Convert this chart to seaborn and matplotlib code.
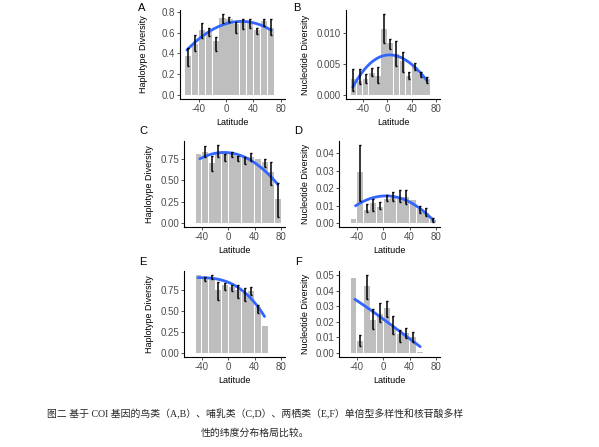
import numpy as np
import matplotlib
matplotlib.use("Agg")
import matplotlib.pyplot as plt
import seaborn as sns

# ---- data ----
# A: birds, haplotype diversity
a_lat = [-55, -45, -35, -25, -15, -5, 5, 15, 25, 35, 45, 55, 65]
a_bar = [0.37, 0.49, 0.62, 0.607, 0.516, 0.738, 0.728, 0.686, 0.706, 0.696, 0.62, 0.712, 0.64]
a_err_lat = [-55, -45, -35, -25, -15, -5, 5, 15, 25, 35, 45, 55, 65]
a_err_mid = [0.365, 0.50, 0.622, 0.606, 0.487, 0.737, 0.726, 0.647, 0.68, 0.685, 0.618, 0.696, 0.655]
a_err_se = [0.085, 0.074, 0.074, 0.041, 0.069, 0.041, 0.02, 0.05, 0.05, 0.045, 0.03, 0.033, 0.075]
a_fit_lat = [-57, -35, -15, 5, 25, 45, 66]
a_fit_val = [0.43, 0.565, 0.645, 0.69, 0.705, 0.69, 0.62]

# B: birds, nucleotide diversity
b_lat = [-55, -45, -35, -25, -15, -5, 5, 15, 25, 35, 45, 55, 65]
b_bar = [0.0025, 0.0022, 0.0025, 0.0035, 0.0031, 0.0106, 0.0083, 0.0066, 0.0055, 0.0031, 0.0045, 0.0033, 0.0025]
b_err_lat = [-55, -45, -35, -25, -15, -5, 5, 15, 25, 35, 45, 55, 65]
b_err_mid = [0.0024, 0.003, 0.0027, 0.0037, 0.0032, 0.0107, 0.0082, 0.0067, 0.0053, 0.0031, 0.0046, 0.0033, 0.0024]
b_err_se = [0.0018, 0.0012, 0.0007, 0.0006, 0.0013, 0.0023, 0.0008, 0.002, 0.0016, 0.0006, 0.0006, 0.0004, 0.0005]
b_fit_lat = [-56, -41, -25, -9, 7, 23, 39, 52, 65]
b_fit_val = [0.0012, 0.0037, 0.0053, 0.0061, 0.0064, 0.0061, 0.005, 0.0037, 0.0023]

# C: mammals, haplotype diversity
c_lat = [-45, -35, -25, -15, -5, 5, 15, 25, 35, 45, 55, 65, 75]
c_bar = [0.807, 0.83, 0.70, 0.826, 0.814, 0.81, 0.787, 0.769, 0.77, 0.75, 0.712, 0.60, 0.276]
c_err_lat = [-35, -25, -15, -5, 5, 15, 25, 35, 55, 65, 75]
c_err_mid = [0.835, 0.70, 0.844, 0.768, 0.80, 0.755, 0.727, 0.772, 0.70, 0.58, 0.267]
c_err_se = [0.065, 0.088, 0.068, 0.038, 0.025, 0.032, 0.042, 0.042, 0.047, 0.133, 0.2]
c_fit_lat = [-43, -24, -4, 15, 35, 55, 75]
c_fit_val = [0.75, 0.806, 0.826, 0.80, 0.72, 0.62, 0.45]

# D: mammals, nucleotide diversity
d_lat = [-45, -35, -25, -15, -5, 5, 15, 25, 35, 45, 55, 65, 75]
d_bar = [0.0024, 0.029, 0.0075, 0.0117, 0.0092, 0.0138, 0.0145, 0.0136, 0.0148, 0.013, 0.0078, 0.0057, 0.0015]
d_err_lat = [-35, -25, -15, -5, 5, 15, 25, 35, 55, 65, 75]
d_err_mid = [0.0287, 0.0084, 0.0105, 0.0099, 0.0143, 0.0152, 0.0155, 0.0152, 0.0078, 0.0066, 0.0017]
d_err_se = [0.016, 0.0023, 0.0035, 0.0019, 0.0016, 0.0025, 0.0037, 0.004, 0.002, 0.0023, 0.0012]
d_fit_lat = [-42, -24, -4, 15, 35, 55, 76]
d_fit_val = [0.0098, 0.0136, 0.0152, 0.0151, 0.0132, 0.0084, 0.0015]

# E: amphibians, haplotype diversity
e_lat = [-45, -35, -25, -15, -5, 5, 15, 25, 35, 45, 55]
e_bar = [0.923, 0.903, 0.883, 0.746, 0.805, 0.785, 0.746, 0.707, 0.734, 0.55, 0.314]
e_err_lat = [-35, -25, -15, -5, 5, 15, 25, 35, 45]
e_err_mid = [0.878, 0.90, 0.736, 0.785, 0.77, 0.726, 0.69, 0.736, 0.52]
e_err_se = [0.025, 0.023, 0.108, 0.04, 0.035, 0.079, 0.075, 0.05, 0.05]
e_fit_lat = [-46, -24, -4, 16, 31, 43, 55]
e_fit_val = [0.89, 0.885, 0.845, 0.77, 0.67, 0.57, 0.43]

# F: amphibians, nucleotide diversity
f_lat = [-45, -35, -25, -15, -5, 5, 15, 25, 35, 45, 55]
f_bar = [0.048, 0.008, 0.043, 0.021, 0.025, 0.029, 0.017, 0.012, 0.013, 0.0105, 0.001]
f_err_lat = [-35, -25, -15, -5, 5, 15, 25, 35, 45]
f_err_mid = [0.008, 0.0424, 0.022, 0.026, 0.028, 0.018, 0.011, 0.0127, 0.0105]
f_err_se = [0.0037, 0.0076, 0.0064, 0.0062, 0.005, 0.0057, 0.0037, 0.0032, 0.0032]
f_fit_lat = [-43, -25, -5, 15, 35, 56]
f_fit_val = [0.0345, 0.029, 0.0235, 0.0172, 0.0105, 0.0042]

x_ticks = [-40, 0, 40, 80]
caption_1 = "图二 基于 COI 基因的鸟类（A,B）、哺乳类（C,D）、两栖类（E,F）单倍型多样性和核苷酸多样"
caption_2 = "性的纬度分布格局比较。"

sns.set_theme(style="ticks")
plt.rcParams['font.family'] = ['Liberation Sans', 'DejaVu Sans']
plt.rcParams['axes.unicode_minus'] = False

W, H = 599, 447
fig = plt.figure(figsize=(W / 100, H / 100), dpi=100)


def px_axes(left, top, right, bottom):
    return fig.add_axes([left / W, 1 - bottom / H, (right - left) / W, (bottom - top) / H])


def draw_panel(ax, lat, bar, err_lat, err_mid, err_se, fit_lat, fit_val,
               ylabel, yticks, fmt, letter, letter_xy, ylab_x):
    sns.barplot(x=lat, y=bar, native_scale=True, orient="x", width=0.9,
                color="#BEBEBE", saturation=1, linewidth=0, errorbar=None, ax=ax)
    sns.regplot(x=fit_lat, y=fit_val, order=3, ci=None, scatter=False, truncate=True,
                line_kws={'color': '#3366FF', 'lw': 2.0, 'zorder': 3}, ax=ax)
    ax.errorbar(err_lat, err_mid, yerr=err_se, fmt='none', ecolor='black',
                elinewidth=1.1, capsize=1.0, capthick=1.0, zorder=4)
    top = max(max(bar), max(np.array(err_mid) + np.array(err_se)))
    ax.set_ylim(-0.05 * top, 1.05 * top)
    ax.set_xlim(-67, 86)
    ax.set_xticks(x_ticks)
    ax.set_xticklabels([str(t) for t in x_ticks])
    ax.set_yticks(yticks)
    ax.set_yticklabels([fmt.format(t) for t in yticks])
    ax.tick_params(labelsize=7, colors='#333333', labelcolor='#4D4D4D',
                   length=2, width=0.6, pad=1.5)
    for s in ['top', 'right']:
        ax.spines[s].set_visible(False)
    for s in ['left', 'bottom']:
        ax.spines[s].set_linewidth(0.8)
        ax.spines[s].set_color('black')
    ax.set_xlabel('Latitude', fontsize=6.5, color='black', labelpad=3)
    ax.set_ylabel('')
    pos = ax.get_position()
    fig.text(ylab_x / W, pos.y0 + pos.height / 2, ylabel, rotation=90,
             ha='center', va='center', fontsize=6.5, color='black')
    fig.text(letter_xy[0] / W, 1 - letter_xy[1] / H, letter, ha='center', va='center',
             fontsize=8, color='black')


ax_a = px_axes(180, 10, 285, 99)
draw_panel(ax_a, a_lat, a_bar, a_err_lat, a_err_mid, a_err_se, a_fit_lat, a_fit_val,
           'Haplotype Diversity', [0, 0.2, 0.4, 0.6, 0.8], '{:.1f}', 'A', (142, 8), 143)

ax_b = px_axes(346, 10, 440, 99)
draw_panel(ax_b, b_lat, b_bar, b_err_lat, b_err_mid, b_err_se, b_fit_lat, b_fit_val,
           'Nucleotide Diversity', [0, 0.005, 0.010], '{:.3f}', 'B', (297, 8), 306)

ax_c = px_axes(184, 141, 285, 227)
draw_panel(ax_c, c_lat, c_bar, c_err_lat, c_err_mid, c_err_se, c_fit_lat, c_fit_val,
           'Haplotype Diversity', [0, 0.25, 0.5, 0.75], '{:.2f}', 'C', (143, 131), 150)

ax_d = px_axes(339, 141, 440, 227)
draw_panel(ax_d, d_lat, d_bar, d_err_lat, d_err_mid, d_err_se, d_fit_lat, d_fit_val,
           'Nucleotide Diversity', [0, 0.01, 0.02, 0.03, 0.04], '{:.2f}', 'D', (298, 131), 306)

ax_e = px_axes(184, 271, 285, 357)
draw_panel(ax_e, e_lat, e_bar, e_err_lat, e_err_mid, e_err_se, e_fit_lat, e_fit_val,
           'Haplotype Diversity', [0, 0.25, 0.5, 0.75], '{:.2f}', 'E', (143, 262), 150)

ax_f = px_axes(339, 271, 440, 357)
draw_panel(ax_f, f_lat, f_bar, f_err_lat, f_err_mid, f_err_se, f_fit_lat, f_fit_val,
           'Nucleotide Diversity', [0, 0.01, 0.02, 0.03, 0.04, 0.05], '{:.2f}', 'F', (298, 262), 306)

cap_font = ['Liberation Serif', 'Noto Sans CJK SC']
fig.text(255 / W, 1 - 414 / H, caption_1, ha='center', va='center', fontsize=7.1, family=cap_font)
fig.text(255 / W, 1 - 433 / H, caption_2, ha='center', va='center', fontsize=7.1, family=cap_font)

fig.savefig('out.png', dpi=100)
